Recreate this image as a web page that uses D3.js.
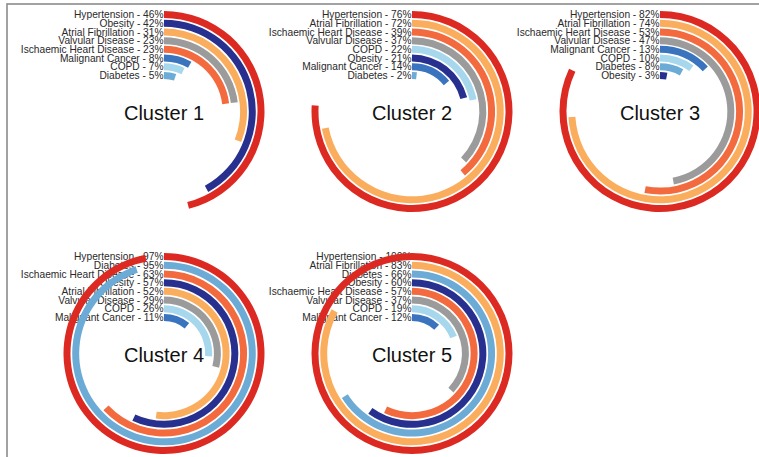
<!DOCTYPE html>
<html>
<head>
<meta charset="utf-8">
<script src="https://cdn.jsdelivr.net/npm/d3@7"></script>
<style>
  body { margin: 0; background: #fff; }
  svg { display: block; font-family: "Liberation Sans", Arial, sans-serif; }
</style>
</head>
<body>
<div class="radial-chart"></div>
<script>
// data
var CLUSTERS = ["Cluster 1", "Cluster 2", "Cluster 3", "Cluster 4", "Cluster 5"];

var cluster1Names = ["Hypertension", "Obesity", "Atrial Fibrillation", "Valvular Disease",
                     "Ischaemic Heart Disease", "Malignant Cancer", "COPD", "Diabetes"];
var cluster1Values = [46, 42, 31, 23, 23, 8, 7, 5];

var cluster2Names = ["Hypertension", "Atrial Fibrillation", "Ischaemic Heart Disease", "Valvular Disease",
                     "COPD", "Obesity", "Malignant Cancer", "Diabetes"];
var cluster2Values = [76, 72, 39, 37, 22, 21, 14, 2];

var cluster3Names = ["Hypertension", "Atrial Fibrillation", "Ischaemic Heart Disease", "Valvular Disease",
                     "Malignant Cancer", "COPD", "Diabetes", "Obesity"];
var cluster3Values = [82, 74, 53, 47, 13, 10, 8, 3];

var cluster4Names = ["Hypertension", "Diabetes", "Ischaemic Heart Disease", "Obesity",
                     "Atrial Fibrillation", "Valvular Disease", "COPD", "Malignant Cancer"];
var cluster4Values = [97, 95, 63, 57, 52, 29, 26, 11];

var cluster5Names = ["Hypertension", "Atrial Fibrillation", "Diabetes", "Obesity",
                     "Ischaemic Heart Disease", "Valvular Disease", "COPD", "Malignant Cancer"];
var cluster5Values = [100, 83, 66, 60, 57, 37, 19, 12];

var DISEASES = ["Hypertension", "Obesity", "Atrial Fibrillation", "Valvular Disease",
                "Ischaemic Heart Disease", "Malignant Cancer", "COPD", "Diabetes"];
var DISEASE_COLORS = ["#dc2a22", "#27308f", "#fbad5e", "#9b9b9b",
                      "#f26a3d", "#3a74bf", "#a7d7ec", "#6babd6"];

var allNames = [cluster1Names, cluster2Names, cluster3Names, cluster4Names, cluster5Names];
var allValues = [cluster1Values, cluster2Values, cluster3Values, cluster4Values, cluster5Values];

var W = 759, H = 457;
var OUTER = 100.5, INNER = 32.5;

var svg = d3.select(".radial-chart").append("svg")
    .attr("width", W)
    .attr("height", H);

// frame (runs off the right and bottom edge in the original)
svg.append("rect")
    .attr("x", 7).attr("y", 4)
    .attr("width", 800).attr("height", 500)
    .attr("fill", "none")
    .attr("stroke", "#8c8c8c")
    .attr("stroke-width", 1.6);

var color = d3.scaleOrdinal().domain(DISEASES).range(DISEASE_COLORS);
var angle = d3.scaleLinear().domain([0, 100]).range([0, 2 * Math.PI]);
var ring = d3.scaleBand().domain(d3.range(8)).range([OUTER, INNER]).paddingInner(0.2);

var arc = d3.arc()
    .startAngle(0)
    .endAngle(function (d) { return angle(d.value); })
    .innerRadius(function (d) { return ring(d.i); })
    .outerRadius(function (d) { return ring(d.i) + ring.bandwidth(); });

CLUSTERS.forEach(function (title, k) {
  var col = k % 3, row = Math.floor(k / 3);
  var cx = 164 + col * 248,
      cy = 111.5 + row * 242;

  var rows = allNames[k].map(function (n, i) {
    return { name: n, value: allValues[k][i], i: i };
  });

  var g = svg.append("g")
      .attr("class", "cluster")
      .attr("transform", "translate(" + cx + "," + cy + ")");

  // labels sit under the bars (bars cross them in clusters 4/5)
  g.selectAll(".lbl")
    .data(rows)
    .enter().append("text")
      .attr("class", "lbl")
      .attr("x", -0.5)
      .attr("y", function (d) { return -(ring(d.i) + ring.bandwidth() / 2); })
      .attr("dy", "0.36em")
      .attr("text-anchor", "end")
      .style("font-size", "10.2px")
      .style("fill", "#2a2a2a")
      .text(function (d) { return d.name + " - " + d.value + "%"; });

  g.selectAll(".bar")
    .data(rows)
    .enter().append("path")
      .attr("class", "bar")
      .attr("d", arc)
      .style("fill", function (d) { return color(d.name); });

  g.append("text")
      .attr("class", "title")
      .attr("x", 0)
      .attr("y", 1.5)
      .attr("dy", "0.35em")
      .attr("text-anchor", "middle")
      .style("font-size", "20px")
      .style("fill", "#111")
      .text(title);
});
</script>
</body>
</html>
